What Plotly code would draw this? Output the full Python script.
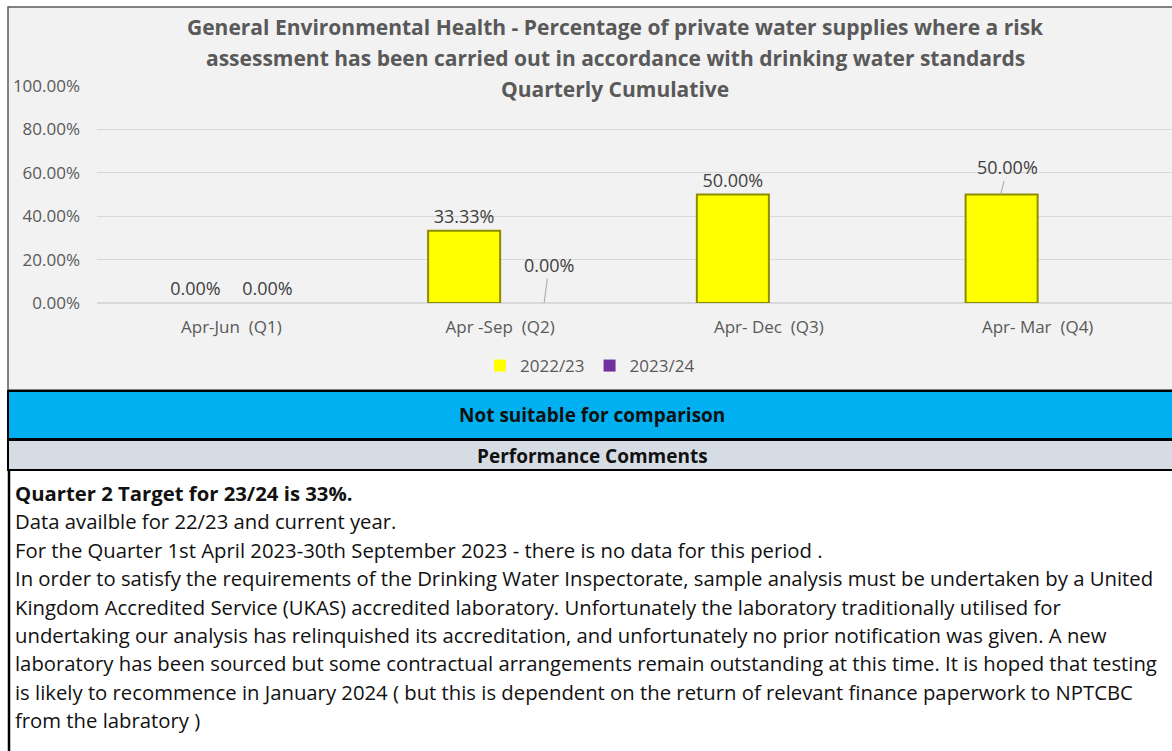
import plotly.graph_objects as go

W, H = 1172, 751

# data
quarters = ["Apr-Jun \u00a0(Q1)", "Apr -Sep \u00a0(Q2)", "Apr- Dec \u00a0(Q3)", "Apr- Mar \u00a0(Q4)"]
series_names = ["2022/23", "2023/24"]
values_2223 = [0.0, 0.3333, 0.5, 0.5]
values_2324 = [0.0, 0.0, None, None]
y_ticks = [0, 0.2, 0.4, 0.6, 0.8, 1.0]

title_lines = [
    "General Environmental Health - Percentage of private water supplies where a risk",
    "assessment has been carried out in accordance with drinking water standards",
    "Quarterly Cumulative",
]
status_text = "Not suitable for comparison"
comments_header = "Performance Comments"
comment_lines = [
    "<b>Quarter 2 Target for 23/24 is 33%.</b>",
    "Data availble for 22/23 and current year.",
    "For the Quarter 1st April 2023-30th September 2023 - there is no data for this period .",
    "In order to satisfy the requirements of the Drinking Water Inspectorate, sample analysis must be undertaken by a United",
    "Kingdom Accredited Service (UKAS) accredited laboratory. Unfortunately the laboratory traditionally utilised for",
    "undertaking our analysis has relinquished its accreditation, and unfortunately no prior notification was given. A new",
    "laboratory has been sourced but some contractual arrangements remain outstanding at this time. It is hoped that testing",
    "is likely to recommence in January 2024 ( but this is dependent on the return of relevant finance paperwork to NPTCBC",
    "from the labratory )",
]


def px(x):
    return x / W


def py(y):
    return 1 - y / H


def label(v):
    return "" if v is None else f"{v:.2%}"


GREY = "#595959"
FONT = "Open Sans"

# labels moved off the bar by a leader line in the original
text_2223 = [label(v) for v in values_2223]
text_2324 = [label(v) for v in values_2324]
text_2223[3] = ""
text_2324[1] = ""

fig = go.Figure()
fig.add_trace(
    go.Bar(
        x=quarters,
        y=values_2223,
        name=series_names[0],
        marker=dict(
            color="#ffff00",
            line=dict(color="#8c8c00", width=[2 if v else 0 for v in values_2223]),
        ),
        text=text_2223,
        textposition="outside",
        textfont=dict(color="#404040", size=18, family=FONT),
        cliponaxis=False,
    )
)
fig.add_trace(
    go.Bar(
        x=quarters,
        y=values_2324,
        name=series_names[1],
        marker=dict(color="#7030a0", line=dict(color="#4a1f6b", width=0)),
        text=text_2324,
        textposition="outside",
        textfont=dict(color="#404040", size=18, family=FONT),
        cliponaxis=False,
    )
)

shapes = [
    # chart area
    dict(type="rect", xref="paper", yref="paper", x0=px(8), x1=1.01, y0=py(390), y1=py(7),
         fillcolor="#f2f2f2", line=dict(color=GREY, width=1.5), layer="below"),
    # status band
    dict(type="rect", xref="paper", yref="paper", x0=px(8), x1=1.01, y0=py(439), y1=py(391),
         fillcolor="#00b0f0", line=dict(color="black", width=2), layer="below"),
    # comments header band
    dict(type="rect", xref="paper", yref="paper", x0=px(8), x1=1.01, y0=py(470), y1=py(440),
         fillcolor="#d6dce4", line=dict(color="black", width=2), layer="below"),
    # left edge of comments box
    dict(type="line", xref="paper", yref="paper", x0=px(9), x1=px(9), y0=0, y1=py(470),
         line=dict(color="black", width=2.5)),
]

annotations = []
for i, line in enumerate(title_lines):
    annotations.append(dict(
        text=f"<b>{line}</b>", xref="paper", yref="paper", x=px(615), y=py(27 + 31 * i),
        xanchor="center", yanchor="middle", showarrow=False,
        font=dict(family=FONT, size=21, color=GREY),
    ))

annotations.append(dict(
    text=f"<b>{status_text}</b>", xref="paper", yref="paper", x=px(592), y=py(415),
    xanchor="center", yanchor="middle", showarrow=False,
    font=dict(family=FONT, size=19, color="#111111"),
))
annotations.append(dict(
    text=f"<b>{comments_header}</b>", xref="paper", yref="paper", x=px(592), y=py(456),
    xanchor="center", yanchor="middle", showarrow=False,
    font=dict(family=FONT, size=19, color="#111111"),
))
for i, line in enumerate(comment_lines):
    annotations.append(dict(
        text=line, xref="paper", yref="paper", x=px(13), y=py(493 + 28.4 * i),
        xanchor="left", yanchor="middle", showarrow=False,
        font=dict(family=FONT, size=20.3, color="#111111"),
    ))

# displaced data labels with leader lines
annotations.append(dict(
    x=quarters[3], y=values_2223[3], xref="x", yref="y", text=label(values_2223[3]),
    xshift=-37, ax=7, ay=-27, showarrow=True, arrowhead=0, arrowwidth=1,
    arrowcolor="#a6a6a6", standoff=0, font=dict(color="#404040", size=18, family=FONT),
))
annotations.append(dict(
    x=quarters[1], y=values_2324[1], xref="x", yref="y", text=label(values_2324[1]),
    xshift=44, ax=5, ay=-38, showarrow=True, arrowhead=0, arrowwidth=1,
    arrowcolor="#a6a6a6", standoff=0, font=dict(color="#404040", size=18, family=FONT),
))

fig.update_layout(
    width=W,
    height=H,
    margin=dict(l=0, r=0, t=0, b=0, autoexpand=False),
    paper_bgcolor="white",
    plot_bgcolor="#f2f2f2",
    barmode="group",
    bargap=0.464,
    bargroupgap=0,
    font=dict(family=FONT, color=GREY),
    showlegend=True,
    legend=dict(
        orientation="h", x=px(590), y=py(366), xanchor="center", yanchor="middle",
        font=dict(size=17, color=GREY, family=FONT), bgcolor="rgba(0,0,0,0)",
        itemwidth=30,
    ),
    xaxis=dict(
        domain=[px(97), 1],
        showgrid=False,
        showline=False,
        ticks="",
        tickfont=dict(size=17, color=GREY, family=FONT),
        ticklabelstandoff=12,
        automargin=False,
        fixedrange=True,
    ),
    yaxis=dict(
        domain=[py(303), py(86)],
        range=[0, 1],
        tickvals=y_ticks,
        tickformat=".2%",
        showgrid=True,
        gridcolor="#d9d9d9",
        gridwidth=1,
        zeroline=True,
        zerolinecolor="#d9d9d9",
        showline=False,
        ticks="",
        tickfont=dict(size=17, color=GREY, family=FONT),
        ticklabelstandoff=16,
        automargin=False,
        fixedrange=True,
    ),
    shapes=shapes,
    annotations=annotations,
)

fig.write_html(
    "out.html",
    config={"displayModeBar": False},
    post_script=(
        "document.body.style.margin='0';document.body.style.overflow='hidden';"
        "var d=document.getElementById('{plot_id}');"
        "d.style.position='fixed';d.style.left='0';d.style.top='0';"
    ),
)
